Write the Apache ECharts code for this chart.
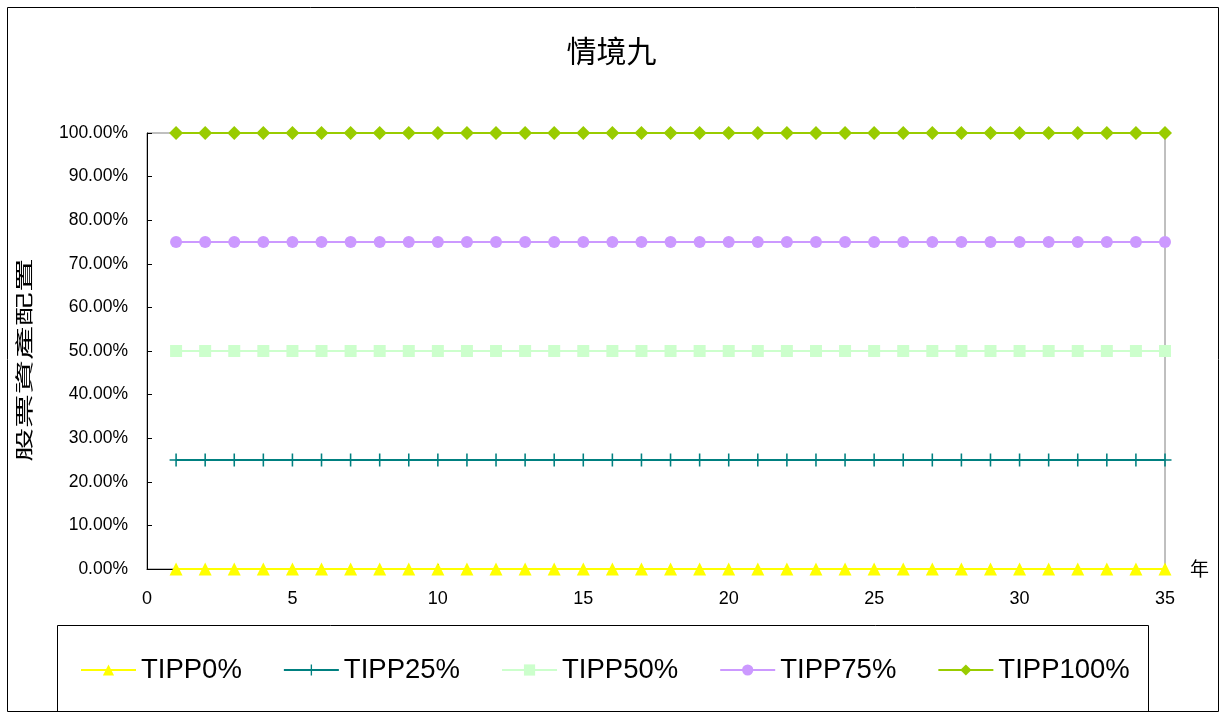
<!DOCTYPE html>
<html>
<head>
<meta charset="utf-8">
<script src="https://cdn.jsdelivr.net/npm/echarts@6/dist/echarts.min.js"></script>
<style type="text/css">
    *{
        padding: 0;
        margin: 0;
    }
    body{
        background: #fff;
    }
    #chart1{
        width: 1223px;
        height: 717px;
    }
</style>
</head>
<body>
<div id="chart1"></div>
<script type="text/javascript">
    // 年 1..35
    let years = [];
    for (let i = 1; i <= 35; i++) years.push(i);
    let seriesNames = ['TIPP0%', 'TIPP25%', 'TIPP50%', 'TIPP75%', 'TIPP100%'];
    let tipp0 = [0,0,0,0,0,0,0,0,0,0,0,0,0,0,0,0,0,0,0,0,0,0,0,0,0,0,0,0,0,0,0,0,0,0,0];
    let tipp25 = [0.25,0.25,0.25,0.25,0.25,0.25,0.25,0.25,0.25,0.25,0.25,0.25,0.25,0.25,0.25,0.25,0.25,0.25,0.25,0.25,0.25,0.25,0.25,0.25,0.25,0.25,0.25,0.25,0.25,0.25,0.25,0.25,0.25,0.25,0.25];
    let tipp50 = [0.5,0.5,0.5,0.5,0.5,0.5,0.5,0.5,0.5,0.5,0.5,0.5,0.5,0.5,0.5,0.5,0.5,0.5,0.5,0.5,0.5,0.5,0.5,0.5,0.5,0.5,0.5,0.5,0.5,0.5,0.5,0.5,0.5,0.5,0.5];
    let tipp75 = [0.75,0.75,0.75,0.75,0.75,0.75,0.75,0.75,0.75,0.75,0.75,0.75,0.75,0.75,0.75,0.75,0.75,0.75,0.75,0.75,0.75,0.75,0.75,0.75,0.75,0.75,0.75,0.75,0.75,0.75,0.75,0.75,0.75,0.75,0.75];
    let tipp100 = [1,1,1,1,1,1,1,1,1,1,1,1,1,1,1,1,1,1,1,1,1,1,1,1,1,1,1,1,1,1,1,1,1,1,1];

    let colors = ['#FFFF00', '#008080', '#CCFFCC', '#CC99FF', '#99CC00'];
    let plus = 'path://M4.4,0h1.2v10h-1.2z M0,4.4h10v1.2h-10z';
    let symbols = ['triangle', plus, 'rect', 'circle', 'diamond'];
    let symbolSizes = [13, 13, 12, 12, 14];

    function pairs(vals) {
        return vals.map(function (v, i) { return [years[i], v]; });
    }
    let allData = [tipp0, tipp25, tipp50, tipp75, tipp100];

    let latin = 'Liberation Sans';
    let cjk = 'Noto Sans CJK TC';

    let chart = echarts.init(document.getElementById('chart1'));
    let option = {
        backgroundColor: '#fff',
        animation: false,
        color: colors,
        title: {
            text: '情境九',
            left: 'center',
            top: 31,
            textStyle: {
                fontFamily: cjk,
                fontSize: 30,
                fontWeight: 'normal',
                color: '#000'
            }
        },
        grid: {
            left: 147,
            right: 58,
            top: 133,
            bottom: 148,
            show: true,
            borderColor: '#808080',
            borderWidth: 1
        },
        legend: {
            data: seriesNames,
            left: 80,
            top: 656,
            padding: 0,
            itemWidth: 55,
            itemHeight: 14,
            itemGap: 41,
            textStyle: {
                fontFamily: latin,
                fontSize: 27.5,
                color: '#000'
            }
        },
        xAxis: {
            type: 'value',
            min: 0,
            max: 35,
            interval: 5,
            name: '年',
            nameLocation: 'end',
            nameGap: 25,
            nameTextStyle: {
                fontFamily: cjk,
                fontSize: 19,
                color: '#000',
                padding: [22, 0, 0, 0]
            },
            axisLine: { lineStyle: { color: '#000', width: 1 } },
            axisTick: { inside: true, length: 5, lineStyle: { color: '#000' } },
            axisLabel: {
                margin: 21,
                fontFamily: latin,
                fontSize: 18,
                color: '#000'
            },
            splitLine: { show: false }
        },
        yAxis: {
            type: 'value',
            min: 0,
            max: 1,
            interval: 0.1,
            axisLine: { show: true, lineStyle: { color: '#000', width: 1 } },
            axisTick: { show: true, inside: true, length: 5, lineStyle: { color: '#000' } },
            axisLabel: {
                margin: 19,
                fontFamily: latin,
                fontSize: 17.5,
                color: '#000',
                formatter: function (v) { return (v * 100).toFixed(2) + '%'; }
            },
            splitLine: { show: false }
        },
        graphic: [
            {
                type: 'rect',
                shape: { x: 7.5, y: 7.5, width: 1211, height: 704 },
                style: { fill: 'none', stroke: '#000', lineWidth: 1 },
                silent: true,
                z: -1
            },
            {
                type: 'rect',
                shape: { x: 57.5, y: 625.5, width: 1091, height: 86 },
                style: { fill: 'none', stroke: '#000', lineWidth: 1 },
                silent: true,
                z: -1
            },
            {
                // y 軸名稱（原圖字形較扁）
                type: 'text',
                x: 24,
                y: 360,
                rotation: Math.PI / 2,
                scaleY: 0.55,
                style: {
                    text: '股票資產配置',
                    fontFamily: cjk,
                    fontSize: 34,
                    fill: '#000',
                    align: 'center',
                    verticalAlign: 'middle'
                },
                silent: true
            }
        ],
        series: seriesNames.map(function (name, i) {
            return {
                name: name,
                type: 'line',
                data: pairs(allData[i]),
                symbol: symbols[i],
                symbolSize: symbolSizes[i],
                showAllSymbol: true,
                lineStyle: { width: 2, color: colors[i] },
                itemStyle: { color: colors[i] },
                clip: false
            };
        })
    };
    chart.setOption(option);
</script>
</body>
</html>
